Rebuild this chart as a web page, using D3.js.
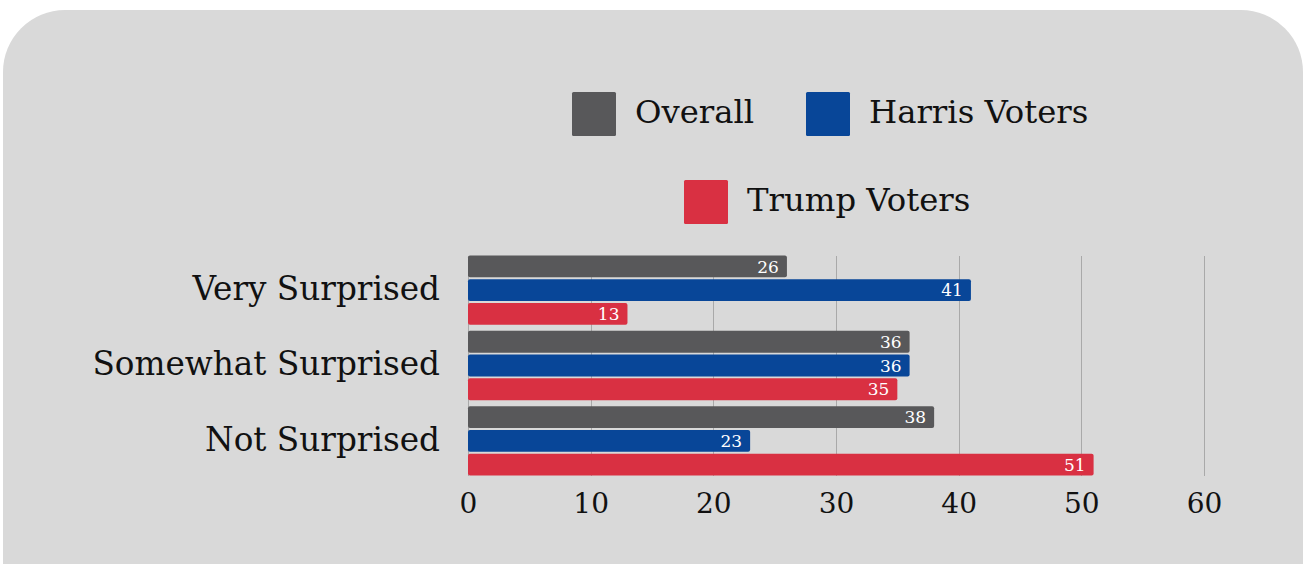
<!DOCTYPE html>
<html><head><meta charset="utf-8">
<script src="https://cdn.jsdelivr.net/npm/d3@7"></script>
<style>html,body{margin:0;padding:0;background:#fff;}svg{display:block;}</style>
</head><body>
<svg id="c" width="1306" height="564"></svg>
<script>
const categories = ["Very Surprised", "Somewhat Surprised", "Not Surprised"];
const seriesNames = ["Overall", "Harris Voters", "Trump Voters"];
const overall = [26, 36, 38];
const harris = [41, 36, 23];
const trump = [13, 35, 51];
const tickValues = [0, 10, 20, 30, 40, 50, 60];
const colors = ["#58585a", "#084698", "#d93042"];

const seriesValues = [overall, harris, trump];
const font = "'DejaVu Serif', serif";
const svg = d3.select("#c");

svg.append("rect").attr("x", 3).attr("y", 10).attr("width", 1300).attr("height", 640)
  .attr("rx", 62).attr("ry", 62).attr("fill", "#d9d9d9");

const x = d3.scaleLinear().domain([0, 60]).range([468, 1204]);
const y0 = d3.scaleBand().domain(categories).range([254, 477]).paddingInner(0.08).paddingOuter(0.02);
const y1 = d3.scaleBand().domain(seriesNames).range([0, y0.bandwidth()]).paddingInner(0.08);

// gridlines
svg.append("g").selectAll("line").data(tickValues).join("line")
  .attr("x1", d => Math.round(x(d)) + 0.5).attr("x2", d => Math.round(x(d)) + 0.5)
  .attr("y1", 256).attr("y2", 476)
  .attr("stroke", "#a9a9a9").attr("stroke-width", 1);

// axis
const axis = svg.append("g").attr("transform", "translate(0,493)")
  .call(d3.axisBottom(x).tickValues(tickValues).tickSize(0).tickPadding(0));
axis.select(".domain").remove();
axis.selectAll("text").attr("font-family", font).attr("font-size", 28).attr("fill", "#111")
  .attr("dy", "0.71em");

// bars
const groups = svg.append("g").selectAll("g").data(categories).join("g")
  .attr("transform", d => `translate(0,${y0(d)})`);
groups.each(function(cat, ci) {
  const g = d3.select(this);
  const rows = seriesNames.map((s, si) => ({s, si, v: seriesValues[si][ci]}));
  g.selectAll("rect").data(rows).join("rect")
    .attr("x", x(0)).attr("y", d => y1(d.s))
    .attr("width", d => x(d.v) - x(0)).attr("height", y1.bandwidth())
    .attr("rx", 2).attr("fill", d => colors[d.si]);
  g.selectAll("text").data(rows).join("text")
    .attr("x", d => x(d.v) - 8).attr("y", d => y1(d.s) + y1.bandwidth() / 2)
    .attr("dy", "0.36em").attr("text-anchor", "end")
    .attr("font-family", font).attr("font-size", 17).attr("fill", "#fff")
    .text(d => d.v);
});

// category labels
svg.append("g").selectAll("text").data(categories).join("text")
  .attr("x", 440).attr("y", d => y0(d) + y0.bandwidth() / 2)
  .attr("dy", "0.3em").attr("text-anchor", "end")
  .attr("font-family", font).attr("font-size", 32.7).attr("fill", "#111")
  .text(d => d);

// legend
const legendPos = [[572, 92], [806, 92], [684, 180]];
const lg = svg.append("g").selectAll("g").data(seriesNames).join("g")
  .attr("transform", (d, i) => `translate(${legendPos[i][0]},${legendPos[i][1]})`);
lg.append("rect").attr("width", 44).attr("height", 44).attr("rx", 1.5)
  .attr("fill", (d, i) => colors[i]);
lg.append("text").attr("x", 63).attr("y", 19).attr("dy", "0.36em")
  .attr("font-family", font).attr("font-size", 32.3).attr("fill", "#111")
  .text(d => d);
</script>
</body></html>
